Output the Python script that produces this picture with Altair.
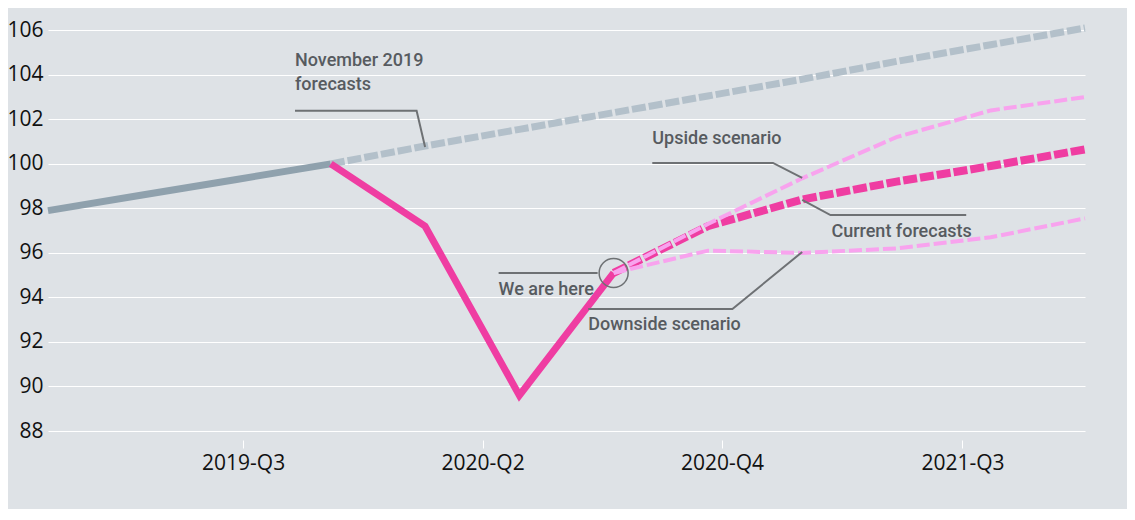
import altair as alt
import pandas as pd

# ---- data (quarter index 0..11, index value) ----
idx_hist_gray = [0, 1, 2, 3]
val_hist_gray = [97.9, 98.6, 99.3, 100.0]

idx_nov = [3, 4, 5, 6, 7, 8, 9, 10, 11]
val_nov = [100.0, 100.8, 101.55, 102.3, 103.05, 103.8, 104.6, 105.35, 106.1]

idx_actual = [3, 4, 5, 6]
val_actual = [100.0, 97.2, 89.6, 95.1]

idx_fc = [6, 7, 8, 9, 10, 11]
val_current = [95.1, 97.2, 98.4, 99.2, 99.9, 100.65]
val_upside = [95.1, 97.3, 99.35, 101.2, 102.4, 103.0]
val_downside = [95.1, 96.1, 96.0, 96.2, 96.7, 97.55]

tick_positions = [2.07, 4.61, 7.15, 9.70]
tick_labels = ["2019-Q3", "2020-Q2", "2020-Q4", "2021-Q3"]
y_ticks = [88, 90, 92, 94, 96, 98, 100, 102, 104, 106]

# annotation texts (anchored in data units)
ann_text = ["November 2019", "forecasts", "Upside scenario", "Current forecasts",
            "We are here", "Downside scenario"]
ann_x = [2.62, 2.62, 6.41, 8.31, 4.78, 5.73]
ann_y = [104.40, 103.32, 100.89, 96.72, 94.11, 92.54]

# leader lines (polylines in data units)
leader_id = ["nov", "nov", "nov", "up", "up", "up", "cur", "cur", "cur",
             "here", "here", "down", "down", "down"]
leader_x = [2.62, 3.91, 4.0, 6.41, 7.69, 8.0, 8.0, 8.30, 9.74,
            4.78, 5.83, 5.73, 7.26, 8.0]
leader_y = [102.38, 102.38, 100.76, 100.04, 100.04, 99.37, 98.38, 97.70, 97.70,
            95.10, 95.10, 93.48, 93.48, 96.04]

here_x = [6.0]
here_y = [95.1]

BG = "#dee2e6"
ANN_FONT = "Roboto"
AX_FONT = "Open Sans"

xscale = alt.Scale(domain=[0, 11], nice=False, zero=False)
yscale = alt.Scale(domain=[88, 107], nice=False, zero=False)

label_expr = " : ".join(
    [f"datum.value < {p + 0.5} ? '{l}'" for p, l in zip(tick_positions[:-1], tick_labels[:-1])]
) + f" : '{tick_labels[-1]}'"

xaxis = alt.Axis(values=tick_positions, labelExpr=label_expr, grid=False, domain=False,
                 tickColor="white", tickSize=8, tickWidth=1, offset=9, title=None,
                 labelFont=AX_FONT, labelFontSize=21, labelColor="#111111", labelPadding=4)
yaxis = alt.Axis(values=y_ticks, grid=True, gridColor="white", gridWidth=1.2, domain=False,
                 ticks=False, title=None, labelFont=AX_FONT, labelFontSize=21,
                 labelColor="#111111", labelPadding=5)

X = alt.X("x:Q", scale=xscale, axis=xaxis)
Y = alt.Y("y:Q", scale=yscale, axis=yaxis)


def series(xs, ys, color, width, dash=None):
    kw = dict(color=color, strokeWidth=width, strokeCap="butt", strokeJoin="miter")
    if dash:
        kw["strokeDash"] = dash
    return alt.Chart(pd.DataFrame({"x": xs, "y": ys})).mark_line(**kw).encode(x=X, y=Y)


gray_hist = series(idx_hist_gray, val_hist_gray, "#8fa1ad", 7)
nov = series(idx_nov, val_nov, "#b3c0ca", 7, dash=[14, 3])
actual = series(idx_actual, val_actual, "#ef3da2", 7)
current = series(idx_fc, val_current, "#ef3da2", 8, dash=[14, 3])
upside = series(idx_fc, val_upside, "#f8a3ee", 4, dash=[13, 4])
downside = series(idx_fc, val_downside, "#f8a3ee", 4, dash=[13, 4])

leaders = alt.Chart(pd.DataFrame({"id": leader_id, "x": leader_x, "y": leader_y,
                                  "o": list(range(len(leader_id)))})).mark_line(
    color="#6e7174", strokeWidth=2, strokeJoin="miter"
).encode(x=X, y=Y, detail="id:N", order="o:Q")

circle = alt.Chart(pd.DataFrame({"x": here_x, "y": here_y})).mark_point(
    shape="circle", size=841, filled=False, color="#6e7174", strokeWidth=1.5, opacity=1
).encode(x=X, y=Y)

texts = alt.Chart(pd.DataFrame({"t": ann_text, "x": ann_x, "y": ann_y})).mark_text(
    align="left", baseline="alphabetic", font=ANN_FONT, fontSize=18, fontWeight=500,
    color="#575b60"
).encode(x=X, y=Y, text="t:N")

chart = alt.layer(
    gray_hist, nov, actual, current, downside, upside, leaders, circle, texts
).properties(
    width=1037, height=423,
    autosize=alt.AutoSizeParams(type="none"),
    padding={"left": 40, "top": 0, "right": 42, "bottom": 78},
    background=BG,
).configure_view(stroke=None)

chart.save("out.html", embed_options={"renderer": "svg", "actions": False})
